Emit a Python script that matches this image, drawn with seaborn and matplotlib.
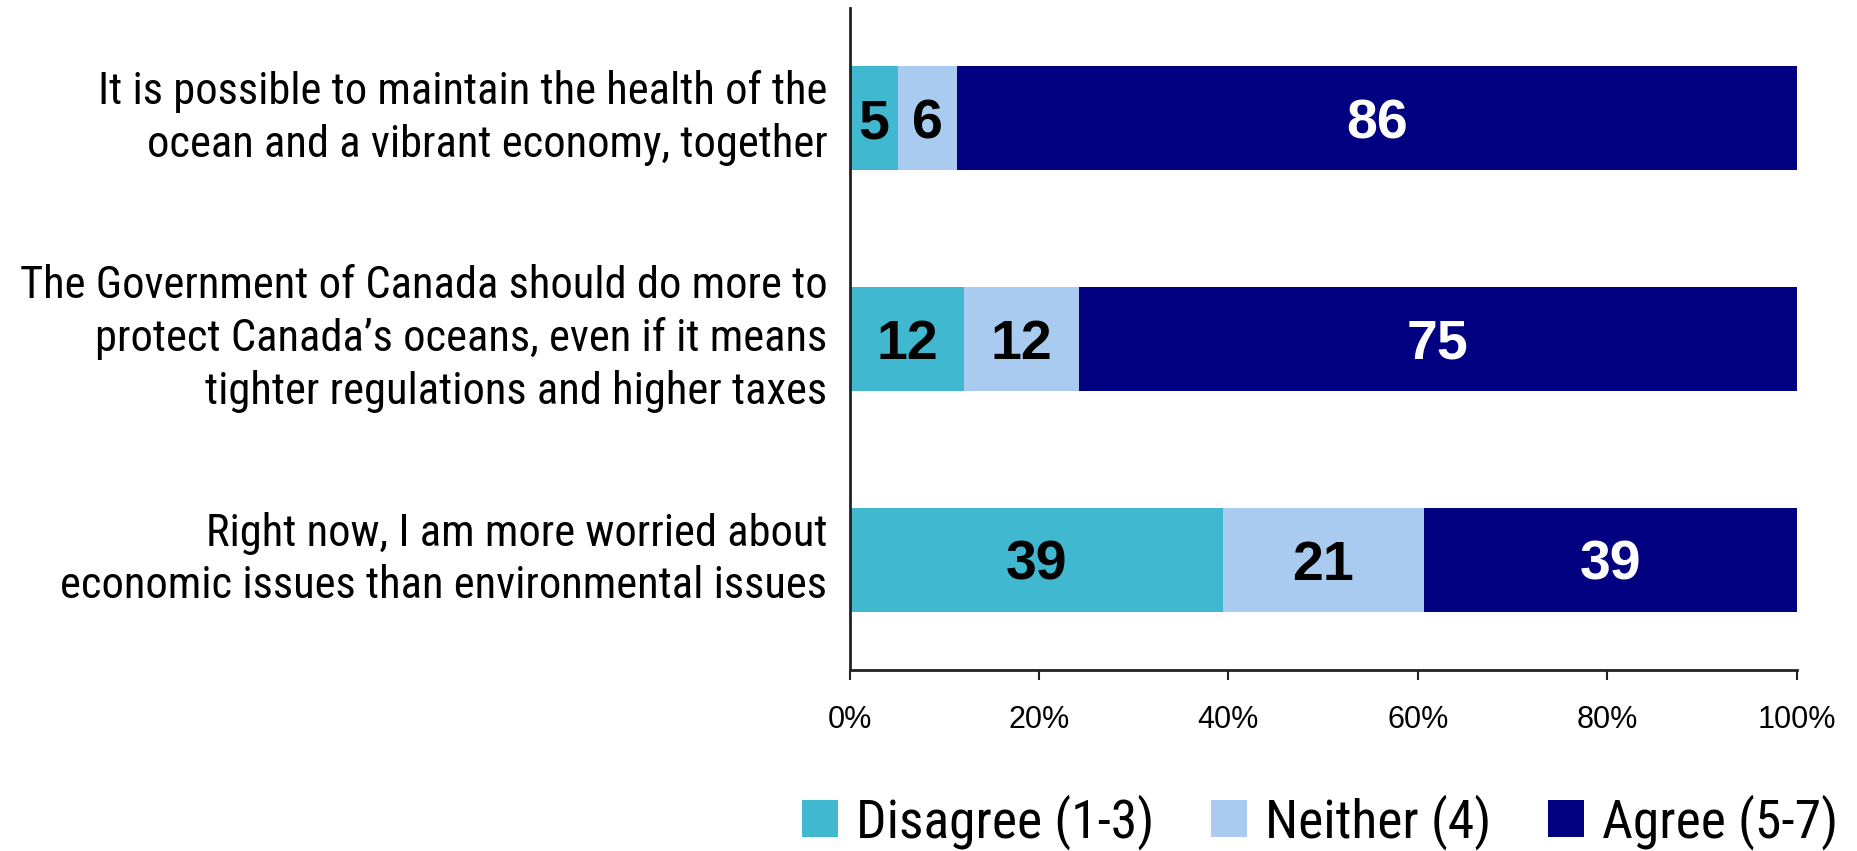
import numpy as np
import pandas as pd
import matplotlib
matplotlib.use("Agg")
import matplotlib.pyplot as plt
from matplotlib import font_manager, transforms
from matplotlib.patches import Patch
from matplotlib.ticker import FuncFormatter
import seaborn as sns

statements = [
    "It is possible to maintain the health of the\nocean and a vibrant economy, together",
    "The Government of Canada should do more to\nprotect Canada\u2019s oceans, even if it means\ntighter regulations and higher taxes",
    "Right now, I am more worried about\neconomic issues than environmental issues",
]
disagree = [5, 12, 39]
neither = [6, 12, 21]
agree = [86, 75, 39]
series_names = ["Disagree (1-3)", "Neither (4)", "Agree (5-7)"]
tick_values = [0, 20, 40, 60, 80, 100]

colors = ["#40B8CF", "#A9CBEF", "#000080"]
label_colors = ["black", "black", "white"]

sns.set_theme(style="white")
plt.rcParams["font.family"] = ["Liberation Sans", "DejaVu Sans"]
plt.rcParams["text.color"] = "black"
plt.rcParams["xtick.color"] = "black"
plt.rcParams["ytick.color"] = "black"

# Condensed face for the statements and the legend, when one is available
available = {f.name for f in font_manager.fontManager.ttflist}
if "Roboto Condensed" in available:
    narrow = ["Roboto Condensed", "Liberation Sans", "DejaVu Sans"]
    stmt_size, legend_size = 32, 38.5
else:
    narrow = ["Liberation Sans", "DejaVu Sans"]
    stmt_size, legend_size = 28.5, 34

raw = np.array([disagree, neither, agree], dtype=float)
share = raw / raw.sum(axis=0) * 100.0
cum = np.cumsum(share, axis=0)

fig = plt.figure(figsize=(18.58, 8.51), dpi=100)
ax = fig.add_axes([0.4573, 0.2127, 0.5096, 0.7779])

# Stacked bars: draw cumulative totals from the outermost layer inward
for k in range(2, -1, -1):
    df = pd.DataFrame({"statement": statements, "value": cum[k]})
    sns.barplot(data=df, x="value", y="statement", orient="h", color=colors[k],
                saturation=1, width=0.47, ax=ax, edgecolor="none", linewidth=0)

# Value labels centred in each segment (digits centred on their cap height)
value_size = 40
cap_px = 0.716 * value_size * fig.dpi / 72.0
digit_tf = transforms.offset_copy(ax.transData, fig=fig, y=-cap_px / 2, units="dots")
for k in range(3):
    left = cum[k] - share[k]
    for i in range(len(statements)):
        ax.text(left[i] + share[k][i] / 2, i, f"{int(raw[k][i])}",
                ha="center", va="baseline", fontsize=value_size, fontweight="bold",
                color=label_colors[k], family=["Liberation Sans", "DejaVu Sans"],
                transform=digit_tf)

ax.set_xlim(0, 100)
ax.set_ylim(2.5, -0.5)
ax.set_xlabel("")
ax.set_ylabel("")
ax.set_xticks(tick_values)
ax.xaxis.set_major_formatter(FuncFormatter(lambda v, p: f"{int(v)}%"))
ax.tick_params(axis="x", bottom=True, length=7.5, width=1.5, color="#222222",
               labelsize=22, pad=18, direction="out", labelcolor="black")
ax.tick_params(axis="y", left=False, length=0, pad=16, labelcolor="black")
for lab in ax.get_yticklabels():
    lab.set_fontsize(stmt_size)
    lab.set_family(narrow)
    lab.set_horizontalalignment("right")
    lab.set_verticalalignment("center")
    lab.set_multialignment("right")
    lab.set_linespacing(1.3)

for side in ["top", "right"]:
    ax.spines[side].set_visible(False)
for side in ["left", "bottom"]:
    ax.spines[side].set_color("#222222")
    ax.spines[side].set_linewidth(2)

em = legend_size * 100 / 72.0
handles = [Patch(facecolor=c, edgecolor="none") for c in colors]
leg = fig.legend(handles, series_names, loc="center", bbox_to_anchor=(0.7104, 0.034),
                 ncol=3, frameon=False, handlelength=36 / em, handleheight=36 / em,
                 handletextpad=18 / em, columnspacing=57 / em,
                 prop={"family": narrow, "size": legend_size},
                 borderaxespad=0, borderpad=0)
for t in leg.get_texts():
    t.set_color("black")

fig.savefig("out.png", dpi=100)
